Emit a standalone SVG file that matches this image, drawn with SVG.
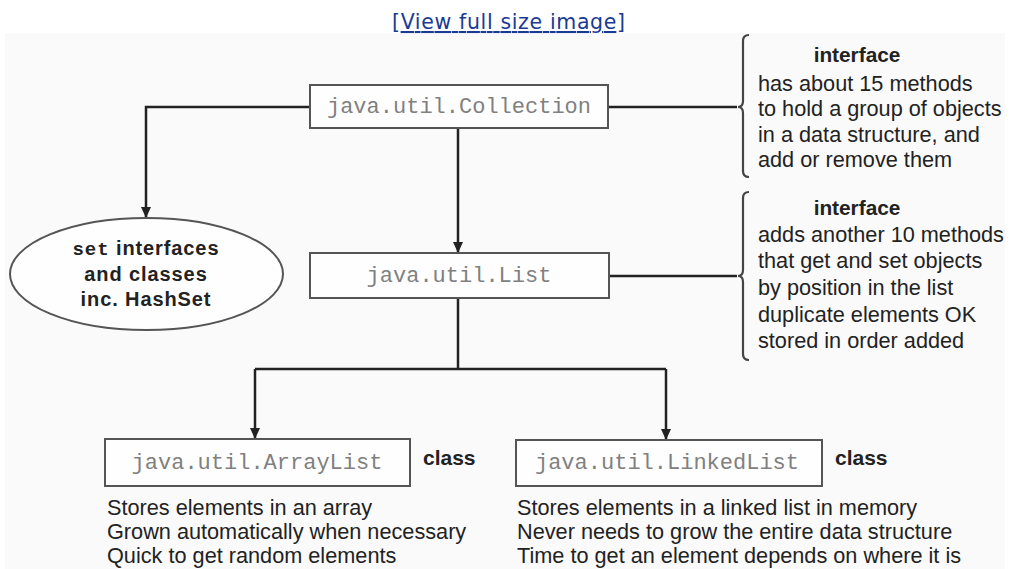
<svg xmlns="http://www.w3.org/2000/svg" width="1010" height="569" viewBox="0 0 1010 569">
<style>
.link{font-family:"DejaVu Sans",Verdana,sans-serif;font-size:20.5px;fill:#1a3a94;text-decoration:underline}
.box{fill:#fefefe;stroke:#555;stroke-width:2}
.mono{font-family:"Liberation Mono","Courier New",monospace;font-size:22px;fill:#808080;text-anchor:middle}
.txt{font-family:"Liberation Sans",Arial,sans-serif;font-size:21.7px;fill:#222}
.hd{font-family:"Liberation Sans",Arial,sans-serif;font-size:20.8px;font-weight:bold;fill:#222;text-anchor:middle}
.cls{font-family:"Liberation Sans",Arial,sans-serif;font-size:21px;font-weight:bold;fill:#222}
.ell{font-family:"Liberation Sans",Arial,sans-serif;font-size:20px;font-weight:bold;fill:#222;text-anchor:middle;letter-spacing:0.9px}
.conn{fill:none;stroke:#222;stroke-width:2.5}
.brace{fill:none;stroke:#444;stroke-width:2.2}
</style>
<defs>
<marker id="arr" markerWidth="12" markerHeight="12" refX="10" refY="6" orient="auto" markerUnits="userSpaceOnUse">
<path d="M0,1 L11,6 L0,11 Z" fill="#222"/>
</marker>
</defs>
<rect x="0" y="0" width="1010" height="569" fill="#ffffff"/>
<rect x="5" y="33" width="1000" height="536" fill="#fafafa"/>
<text class="link" x="392" y="29" textLength="233">[View full size image]</text>

<g id="connectors">
<path class="conn" d="M310 107 H146 V217" marker-end="url(#arr)"/>
<path class="conn" d="M458 128 V252" marker-end="url(#arr)"/>
<path class="conn" d="M608 107 H737"/>
<path class="conn" d="M609 276 H737"/>
<path class="conn" d="M458 298 V369"/>
<path class="conn" d="M255 369 H666"/>
<path class="conn" d="M255 369 V438" marker-end="url(#arr)"/>
<path class="conn" d="M666 369 V439" marker-end="url(#arr)"/>
</g>

<g id="collection">
<rect class="box" x="310" y="85" width="298" height="43"/>
<text class="mono" x="459" y="113">java.util.Collection</text>
</g>

<g id="collection-note">
<path class="brace" d="M749 35 q-6 0 -6 6 V101 q0 6 -5 6 q5 0 5 6 V171 q0 6 6 6"/>
<text class="hd" x="857" y="62">interface</text>
<text class="txt" x="758" y="91">has about 15 methods</text>
<text class="txt" x="758" y="116">to hold a group of objects</text>
<text class="txt" x="758" y="142">in a data structure, and</text>
<text class="txt" x="758" y="167">add or remove them</text>
</g>

<g id="set">
<ellipse cx="146.5" cy="274" rx="136.5" ry="56" fill="#fefefe" stroke="#555" stroke-width="2"/>
<text class="ell" x="146" y="255"><tspan font-family="Liberation Mono,monospace" font-size="19px">set</tspan> interfaces</text>
<text class="ell" x="146" y="281">and classes</text>
<text class="ell" x="146" y="306">inc. HashSet</text>
</g>

<g id="list">
<rect class="box" x="310" y="253" width="299" height="45"/>
<text class="mono" x="459" y="282">java.util.List</text>
</g>

<g id="list-note">
<path class="brace" d="M749 192 q-6 0 -6 6 V270 q0 6 -5 6 q5 0 5 6 V354 q0 6 6 6"/>
<text class="hd" x="857" y="215">interface</text>
<text class="txt" x="758" y="242">adds another 10 methods</text>
<text class="txt" x="758" y="268">that get and set objects</text>
<text class="txt" x="758" y="295">by position in the list</text>
<text class="txt" x="758" y="322">duplicate elements OK</text>
<text class="txt" x="758" y="348">stored in order added</text>
</g>

<g id="arraylist">
<rect class="box" x="105" y="439" width="305" height="47"/>
<text class="mono" x="257" y="469">java.util.ArrayList</text>
<text class="cls" x="423" y="465">class</text>
<text class="txt" x="107" y="515">Stores elements in an array</text>
<text class="txt" x="107" y="539">Grown automatically when necessary</text>
<text class="txt" x="107" y="563">Quick to get random elements</text>
</g>

<g id="linkedlist">
<rect class="box" x="516" y="440" width="306" height="46"/>
<text class="mono" x="667" y="469">java.util.LinkedList</text>
<text class="cls" x="835" y="465">class</text>
<text class="txt" x="517" y="515">Stores elements in a linked list in memory</text>
<text class="txt" x="517" y="539">Never needs to grow the entire data structure</text>
<text class="txt" x="517" y="563">Time to get an element depends on where it is</text>
</g>
</svg>
